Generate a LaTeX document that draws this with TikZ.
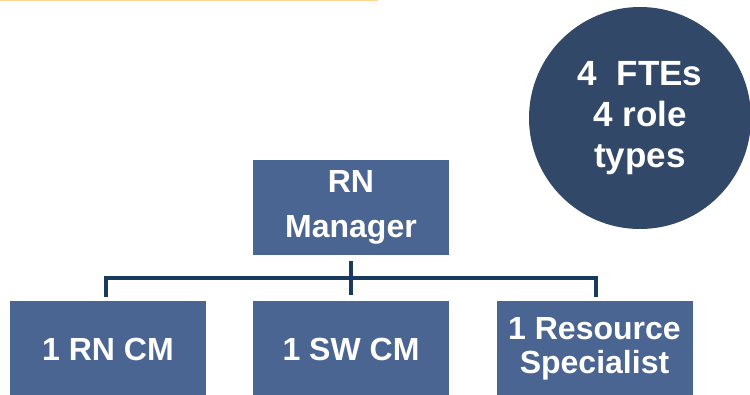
\documentclass[tikz,border=0pt]{standalone}
\usepackage{fontspec}
\setmainfont{Liberation Sans}
\definecolor{boxblue}{RGB}{74,101,145}
\definecolor{circblue}{RGB}{50,72,104}
\definecolor{connblue}{RGB}{24,58,92}
\definecolor{topline}{RGB}{253,214,140}
\begin{document}
\begin{tikzpicture}[x=1pt,y=-1pt,
  rolebox/.style={fill=boxblue,draw=none,minimum width=196pt,minimum height=95pt,inner sep=0pt,
    text=white,font=\bfseries\fontsize{32}{36}\selectfont,align=center},
  conn/.style={draw=connblue,line width=4pt}
]
\useasboundingbox (0,0) rectangle (750,395);
\fill[topline] (0,0) rectangle (378,1.5);
\node[circle,fill=circblue,minimum size=222pt,inner sep=0pt,
  text=white,font=\bfseries\fontsize{35}{41}\selectfont,align=center] (fte) at (640,118)
  {4\ \ FTEs\\4 role\\types};
\node[rolebox,font=\bfseries\fontsize{32}{45}\selectfont] (mgr) at (351,207.5) {RN\\Manager};
\node[rolebox] (rn) at (108,349) {1 RN CM};
\node[rolebox] (sw) at (351,349) {1 SW CM};
\node[rolebox,font=\bfseries\fontsize{32}{34}\selectfont] (rs) at (594.5,349) {1 Resource\\Specialist};
\coordinate (bus) at (351,278);
\coordinate (lft) at (106,297);
\coordinate (rgt) at (596,297);
\draw[conn] ([yshift=-6pt]mgr.south) -- ([yshift=6pt]sw.north);
\draw[conn] (lft) |- (bus) -| (rgt);
\end{tikzpicture}
\end{document}
